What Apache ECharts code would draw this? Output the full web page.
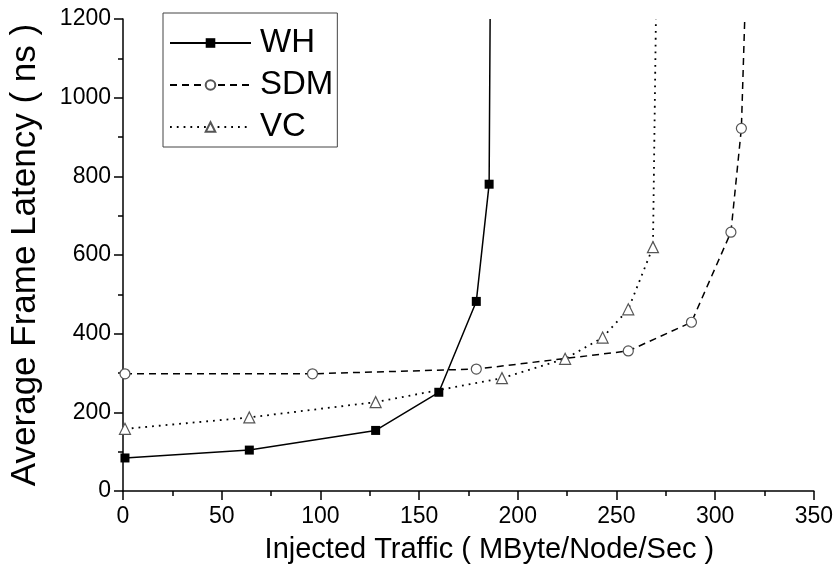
<!DOCTYPE html>
<html>
<head>
<meta charset="utf-8">
<script src="https://cdn.jsdelivr.net/npm/echarts@6/dist/echarts.min.js"></script>
<style>
  html, body { margin: 0; padding: 0; background: #fff; }
  #chart { width: 836px; height: 581px; }
</style>
</head>
<body>
<div id="chart"></div>
<script>
// Injected traffic (MByte/Node/Sec) vs. average frame latency (ns)
const seriesNames = ['WH', 'SDM', 'VC'];

const whTraffic  = [1, 64, 128, 160, 179, 185.5, 186];
const whLatency  = [84, 104, 154, 251, 482, 780, 1200];

const sdmTraffic = [1, 96, 179, 256, 288, 308, 313.3, 315];
const sdmLatency = [298, 298, 310, 356, 429, 658, 922, 1200];

const vcTraffic  = [1, 64, 128, 192, 224, 243, 256, 268.5, 270];
const vcLatency  = [158, 187, 226, 287, 336, 390, 462, 620, 1200];

const xTicks = [0, 50, 100, 150, 200, 250, 300, 350];
const yTicks = [0, 200, 400, 600, 800, 1000, 1200];

const FONT = "'Liberation Sans', Arial, sans-serif";

// pair up points; the last point of each run marks where the curve leaves the top, drawn without a marker
function toPoints(xs, ys) {
  return xs.map((x, i) => {
    const p = { value: [x, ys[i]] };
    if (i === xs.length - 1) p.symbol = 'none';
    return p;
  });
}

const chart = echarts.init(document.getElementById('chart'), null, { renderer: 'canvas' });

const axisCommon = {
  axisLine: { show: true, lineStyle: { color: '#000', width: 1.5 } },
  axisTick: { show: true, inside: false, length: 9, lineStyle: { color: '#000', width: 1.5 } },
  minorTick: { show: true, splitNumber: 2, length: 5, lineStyle: { color: '#000', width: 1.5 } },
  splitLine: { show: false },
  axisLabel: { color: '#000', fontSize: 23, fontFamily: FONT, formatter: v => String(v) },
  nameTextStyle: { color: '#000', fontSize: 29, fontFamily: FONT }
};

chart.setOption({
  animation: false,
  backgroundColor: '#fff',
  grid: { left: 123, right: 20, top: 19, bottom: 90, containLabel: false },
  legend: {
    data: seriesNames,
    orient: 'vertical',
    left: 163,
    top: 13,
    padding: [12, 4, 2, 6],
    itemGap: 6,
    itemWidth: 81,
    itemHeight: 12,
    borderColor: '#444',
    borderWidth: 1,
    textStyle: { color: '#000', fontSize: 33, fontFamily: FONT, lineHeight: 36, padding: [0, 0, 0, 4] }
  },
  xAxis: Object.assign({}, axisCommon, {
    type: 'value',
    min: xTicks[0],
    max: xTicks[xTicks.length - 1],
    interval: xTicks[1] - xTicks[0],
    name: 'Injected Traffic ( MByte/Node/Sec )',
    nameLocation: 'middle',
    nameGap: 44,
    nameTextStyle: Object.assign({}, axisCommon.nameTextStyle, { padding: [0, 0, 0, 42] }),
    axisLabel: Object.assign({}, axisCommon.axisLabel, { margin: 14 })
  }),
  yAxis: Object.assign({}, axisCommon, {
    type: 'value',
    min: yTicks[0],
    max: yTicks[yTicks.length - 1],
    interval: yTicks[1] - yTicks[0],
    name: 'Average Frame Latency ( ns )',
    nameLocation: 'middle',
    nameGap: 80,
    nameTextStyle: Object.assign({}, axisCommon.nameTextStyle, { fontSize: 35 }),
    axisLabel: Object.assign({}, axisCommon.axisLabel, { margin: 12 })
  }),
  series: [
    {
      name: seriesNames[0],
      type: 'line',
      data: toPoints(whTraffic, whLatency),
      symbol: 'rect',
      symbolSize: 9,
      lineStyle: { color: '#000', width: 1.5, type: 'solid' },
      itemStyle: { color: '#000', borderColor: '#000', borderWidth: 0 },
      z: 3
    },
    {
      name: seriesNames[1],
      type: 'line',
      data: toPoints(sdmTraffic, sdmLatency),
      symbol: 'circle',
      symbolSize: 10,
      lineStyle: { color: '#000', width: 1.5, type: [7, 5] },
      itemStyle: { color: '#fff', borderColor: '#555', borderWidth: 1.2 },
      z: 2
    },
    {
      name: seriesNames[2],
      type: 'line',
      data: toPoints(vcTraffic, vcLatency),
      symbol: 'triangle',
      symbolSize: 11,
      lineStyle: { color: '#000', width: 1.8, type: [1.8, 5] },
      itemStyle: { color: '#fff', borderColor: '#555', borderWidth: 1.2 },
      z: 2
    }
  ]
});
</script>
</body>
</html>
